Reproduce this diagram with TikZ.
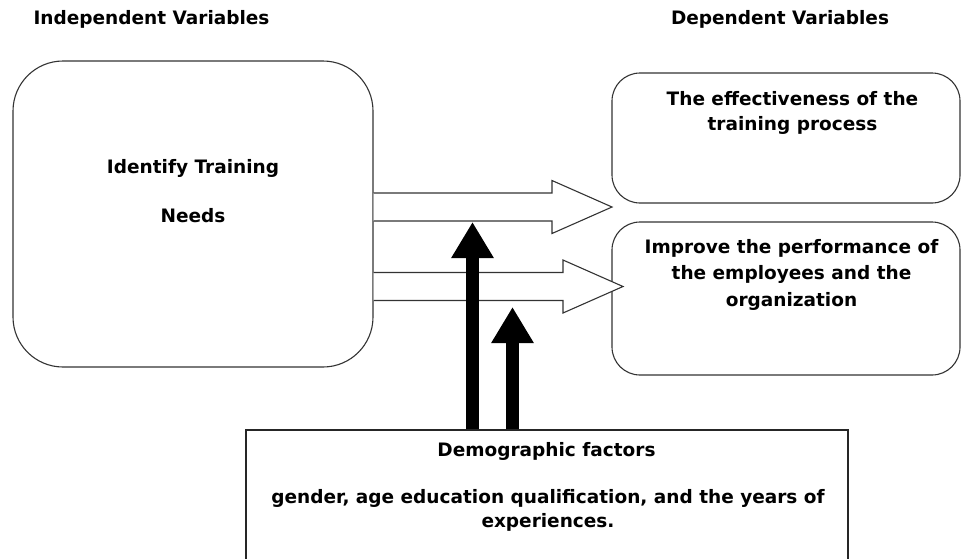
\documentclass[tikz,border=0pt]{standalone}
\usepackage{fontspec}
\setmainfont{DejaVu Sans}
\usetikzlibrary{arrows.meta}
\usetikzlibrary{calc}

\begin{document}
\begin{tikzpicture}[x=1pt, y=-1pt,
    txt/.style={font=\fontsize{18.5pt}{#1}\selectfont\bfseries, align=center, inner sep=0pt},
    txt/.default=25pt,
    rbox/.style={draw=black!80, line width=1.1pt, rounded corners=#1, inner sep=0pt},
    hollow/.style={draw=black!80, line width=1.1pt, fill=white,
      to path={let \p1=(\tikztostart), \p2=(\tikztotarget) in
        (\x1,\y1+14pt) -- (\x2-60pt,\y1+14pt) -- (\x2-60pt,\y1+26.5pt) -- (\x2,\y2)
        -- (\x2-60pt,\y1-26.5pt) -- (\x2-60pt,\y1-14pt) -- (\x1,\y1-14pt)}},
    push/.style={line width=13pt, -{Triangle[width=40pt, length=36pt]}}]
      \useasboundingbox (0,0) rectangle (961,558);
      \clip (0,0) rectangle (961,558);

      % boxes
      \node[rbox=50pt, minimum width=360pt, minimum height=306pt] (itn) at (193,214) {};
      \node[rbox=28pt, minimum width=348pt, minimum height=130pt] (eff) at (786,138) {};
      \node[rbox=28pt, minimum width=348pt, minimum height=153pt] (perf) at (786,298.5) {};
      \node[draw=black!85, line width=1.2pt, inner sep=0pt, minimum width=602pt, minimum height=170pt] (demo) at (547,515) {};

      % hollow arrows
      \coordinate (tipA) at (612,207);
      \coordinate (tipB) at (623,286.5);
      \draw[hollow] (itn.east |- tipA) to (tipA);
      \draw[hollow] (itn.east |- tipB) to (tipB);

      % black arrows
      \coordinate (upA) at (472.5,222);
      \coordinate (upB) at (512.5,307);
      \draw[push] (demo.north -| upA) -- (upA);
      \draw[push] (demo.north -| upB) -- (upB);

      % texts
      \node[txt] (hin) at (151.5,19) {Independent Variables};
      \node[txt] (hdep) at (780,19) {Dependent Variables};
      \node[txt] (itnA) at (193,168) {Identify Training};
      \node[txt] (itnB) at (193,216) {Needs};
      \node[txt] (effT) at (792.5,112.5) {The effectiveness of the\\training process};
      \node[txt=26.5pt] (perfT) at (791.5,274.5) {Improve the performance of\\the employees and the\\organization};
      \node[txt] (demoA) at (546.5,451) {Demographic factors};
      \node[txt=24pt] (demoB) at (548,510) {gender, age education qualification, and the years of\\experiences.};
    \end{tikzpicture}
\end{document}
